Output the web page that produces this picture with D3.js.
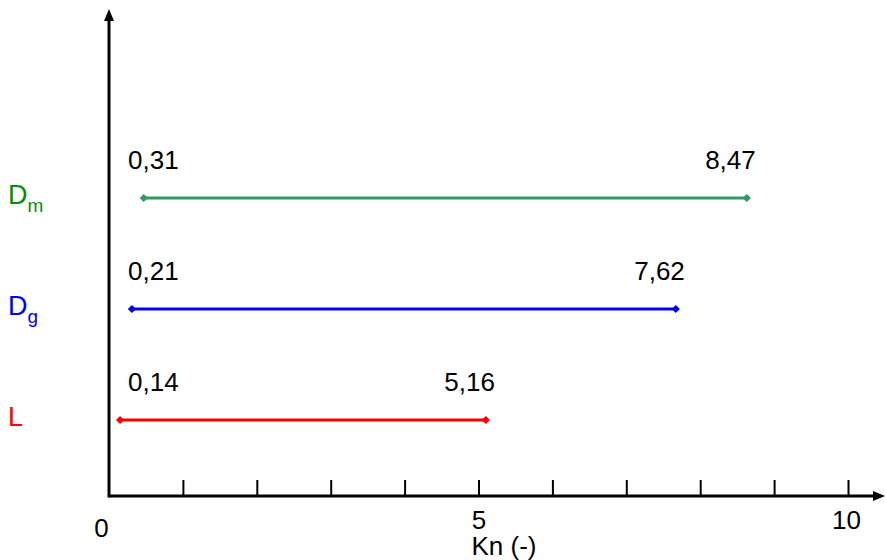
<!DOCTYPE html>
<html>
<head>
<meta charset="utf-8">
<script src="https://cdn.jsdelivr.net/npm/d3@7/dist/d3.min.js"></script>
<style>
  html, body { margin: 0; padding: 0; background: #fff; }
  svg { display: block; font-family: "Liberation Sans", Arial, sans-serif; }
</style>
</head>
<body>
<svg id="chart" width="885" height="560"></svg>
<script>
// ---- data ----
const categories = ["L", "Dg", "Dm"];
const mainLetters = ["L", "D", "D"];
const subscripts = ["", "g", "m"];
const starts = [0.15, 0.31, 0.47];
const ends = [5.10, 7.67, 8.63];
const startLabels = ["0,14", "0,21", "0,31"];
const endLabels = ["5,16", "7,62", "8,47"];
const xTickValues = [0, 1, 2, 3, 4, 5, 6, 7, 8, 9, 10];
const xTickLabels = ["0", "", "", "", "", "5", "", "", "", "", "10"];
const xTitle = "Kn (-)";

// ---- styles ----
const lineColors = { L: "#ff0000", Dg: "#0000ff", Dm: "#2e9960" };
const labelColors = { L: "#ff0000", Dg: "#0000ff", Dm: "#0a8a0a" };

const svg = d3.select("#chart");
const x = d3.scaleLinear().domain([0, 10]).range([109, 848]);
const y = d3.scalePoint().domain(categories).range([420, 198]);
const axisY = 496;

// x axis ticks (upward)
const xAxis = d3.axisBottom(x)
  .tickValues(xTickValues)
  .tickFormat((d, i) => xTickLabels[i])
  .tickSize(-16)
  .tickSizeOuter(0)
  .tickPadding(15);

const gx = svg.append("g").attr("transform", `translate(0,${axisY})`).call(xAxis);
gx.select(".domain").remove();
gx.selectAll(".tick line").attr("stroke", "#000").attr("stroke-width", 2);
gx.selectAll(".tick text")
  .attr("fill", "#000")
  .style("font-size", "26px")
  .attr("dx", d => d === 0 ? -8 : (d === 10 ? -2 : 0))
  .attr("dy", d => d === 0 ? "1.0em" : "0.71em");
gx.selectAll(".tick").filter(d => d === 0).select("line").remove();

// axis lines with arrows
svg.append("line")
  .attr("x1", x(0)).attr("x2", 876)
  .attr("y1", axisY).attr("y2", axisY)
  .attr("stroke", "#000").attr("stroke-width", 3);
svg.append("path")
  .attr("d", `M885,${axisY} L873,${axisY - 5} L873,${axisY + 5} Z`)
  .attr("fill", "#000");

svg.append("line")
  .attr("x1", x(0)).attr("x2", x(0))
  .attr("y1", axisY + 1.5).attr("y2", 20)
  .attr("stroke", "#000").attr("stroke-width", 3);
svg.append("path")
  .attr("d", `M${x(0)},9 L${x(0) - 5},21 L${x(0) + 5},21 Z`)
  .attr("fill", "#000");

// axis title
svg.append("text")
  .attr("x", 504).attr("y", 555)
  .attr("text-anchor", "middle")
  .style("font-size", "26px")
  .attr("fill", "#000")
  .text(xTitle);

// ranges
const diamond = d3.symbol().type(d3.symbolSquare).size(34);
categories.forEach((c, i) => {
  const yy = y(c);
  const g = svg.append("g");
  g.append("line")
    .attr("x1", x(starts[i])).attr("x2", x(ends[i]))
    .attr("y1", yy).attr("y2", yy)
    .attr("stroke", lineColors[c]).attr("stroke-width", 3);
  [starts[i], ends[i]].forEach(v => {
    g.append("path")
      .attr("d", diamond())
      .attr("transform", `translate(${x(v)},${yy}) rotate(45)`)
      .attr("fill", lineColors[c]);
  });
  g.append("text")
    .attr("x", x(0) + 19).attr("y", yy - 29)
    .style("font-size", "26px")
    .attr("fill", "#000")
    .text(startLabels[i]);
  g.append("text")
    .attr("x", x(ends[i]) + 9).attr("y", yy - 29)
    .attr("text-anchor", "end")
    .style("font-size", "26px")
    .attr("fill", "#000")
    .text(endLabels[i]);

  // category label
  const t = svg.append("text")
    .attr("x", 8).attr("y", yy + 6)
    .attr("fill", labelColors[c])
    .style("font-size", "27px");
  t.append("tspan").text(mainLetters[i]);
  if (subscripts[i]) {
    t.append("tspan")
      .attr("dy", 8)
      .style("font-size", "19px")
      .text(subscripts[i]);
  }
});
</script>
</body>
</html>
